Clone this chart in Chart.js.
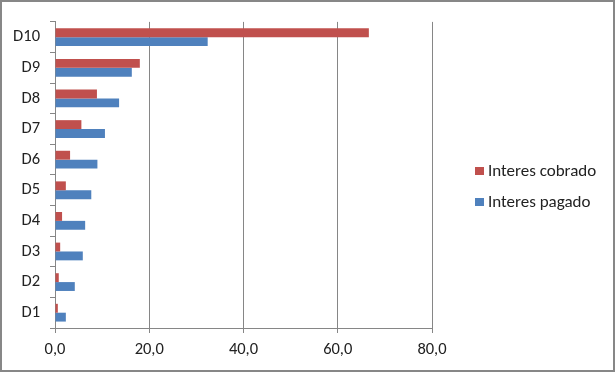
<!DOCTYPE html>
<html>
<head>
<meta charset="utf-8">
<script src="https://cdn.jsdelivr.net/npm/chart.js@4"></script>
<style>
  body { margin: 0; background: #fff; }
  #wrap {
    position: relative;
    width: 615px; height: 372px;
    box-sizing: border-box;
    border: 2px solid #878787;
    background: #fff;
  }
  #legend {
    position: absolute; left: 473px; top: 153px;
    font: 17px Calibri, Carlito, "Liberation Sans", sans-serif;
    color: #222;
  }
  #legend div { height: 31px; line-height: 31px; white-space: nowrap; }
  #legend span.box {
    display: inline-block; width: 9px; height: 8px;
    margin-right: 4px; vertical-align: 1px;
  }
</style>
</head>
<body>
<div id="wrap">
  <canvas id="graph"></canvas>
  <div id="legend"></div>
</div>
<script>
// deciles, bottom (D1) to top (D10)
const labels = ['D1', 'D2', 'D3', 'D4', 'D5', 'D6', 'D7', 'D8', 'D9', 'D10'];
const cobrado = [0.6, 0.8, 1.1, 1.5, 2.3, 3.2, 5.6, 8.9, 18.0, 66.6];
const pagado = [2.3, 4.2, 5.9, 6.4, 7.7, 9.0, 10.6, 13.6, 16.3, 32.4];
const xTicks = [0, 20, 40, 60, 80];

const gridColor = '#868686';
const font = { family: 'Calibri, Carlito, "Liberation Sans", sans-serif', size: 16.5 };

const graphData = {
    labels: labels,
    datasets: [
        {
        label: 'Interes cobrado',
        data: cobrado,
        backgroundColor: '#C0504D'
        },
        {
        label: 'Interes pagado',
        data: pagado,
        backgroundColor: '#4F81BD'
        }
    ]
}

const config = {
    type: 'bar',
    data: graphData,
    options: {
        indexAxis: 'y',
        responsive: true,
        maintainAspectRatio: false,
        animation: false,
        categoryPercentage: 0.58,
        barPercentage: 1.0,
        layout: { padding: { top: 17, right: 181, left: 0, bottom: 0 } },
        plugins: {
            legend: { display: false },
            tooltip: { enabled: false }
        },
        scales: {
            x: {
                min: 0,
                max: 80,
                afterBuildTicks: (scale) => { scale.ticks = xTicks.map(v => ({ value: v })) },
                afterFit: (scale) => { scale.height = 42 },
                grid: { color: gridColor, tickLength: 5 },
                border: { color: gridColor },
                ticks: {
                    color: '#222',
                    font: font,
                    padding: 7,
                    maxRotation: 0,
                    callback: (v) => v.toFixed(1).replace('.', ',')
                }
            },
            y: {
                reverse: true,
                afterFit: (scale) => { scale.width = 53 },
                grid: { drawOnChartArea: false, color: gridColor, tickLength: 5, offset: true },
                border: { color: gridColor },
                ticks: { color: '#222', font: font, padding: 10 }
            }
        }
    }
}

var ctx = document.getElementById('graph').getContext('2d');
var graph = new Chart(ctx, config);

// html legend
let legendDiv = document.getElementById('legend');
graphData.datasets.forEach(ds => {
    let item = document.createElement('div');
    item.innerHTML = `<span class="box" style="background:${ds.backgroundColor}"></span>${ds.label}`;
    legendDiv.append(item);
});
</script>
</body>
</html>
